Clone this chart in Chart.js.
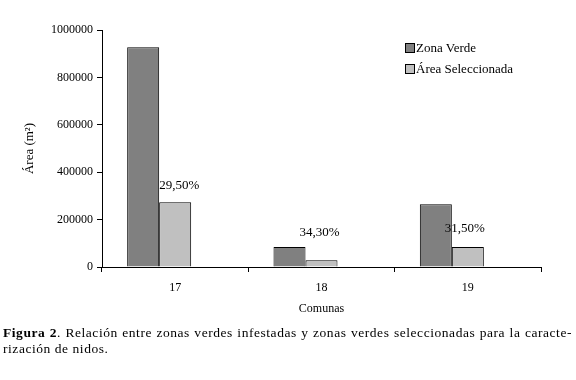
<!DOCTYPE html>
<html>
<head>
<meta charset="utf-8">
<script src="https://cdn.jsdelivr.net/npm/chart.js@4"></script>
<style>
  body { margin: 0; background: #fff; }
  #wrap { position: relative; width: 576px; height: 380px; font-family: "Liberation Serif", serif; color: #000; }
  #chart { position: absolute; left: 0; top: 0; }
  .leg { position: absolute; left: 405px; font-size: 13px; line-height: 16px; white-space: nowrap; }
  .leg i { display: inline-block; width: 8px; height: 8px; border: 1px solid #000; margin-right: 1px; vertical-align: -1px; }
  .cap { position: absolute; left: 3px; width: 569px; font-size: 13.5px; line-height: 16px; letter-spacing: 0.55px; white-space: nowrap; }
</style>
</head>
<body>
<div id="wrap">
  <canvas id="chart" width="576" height="380"></canvas>
  <div class="leg" style="top:40px"><i style="background:#808080"></i>Zona Verde</div>
  <div class="leg" style="top:61px"><i style="background:#c0c0c0"></i>Área Seleccionada</div>
  <div class="cap" style="top:325px; text-align:justify; text-align-last:justify;"><b>Figura 2</b>. Relación entre zonas verdes infestadas y zonas verdes seleccionadas para la caracte-</div>
  <div class="cap" style="top:341px;">rización de nidos.</div>
</div>
<script>
// Datos
const comunas = ['17', '18', '19'];
const zonaVerde = [927000, 84000, 265000];
const areaSeleccionada = [273000, 28000, 84000];
const porcentajes = ['29,50%', '34,30%', '31,50%'];
const yTicks = [0, 200000, 400000, 600000, 800000, 1000000];

// ajustes finos de la posición de las etiquetas (px)
const labelDx = [4, -2, -3];
const labelDy = [17, 28, 19];

const serif = 'Liberation Serif';

// etiquetas de porcentaje sobre las barras de área seleccionada
const etiquetas = {
  id: 'etiquetas',
  afterDatasetsDraw(chart) {
    const ctx = chart.ctx;
    const meta = chart.getDatasetMeta(1);
    ctx.save();
    ctx.font = '13px ' + serif;
    ctx.fillStyle = '#000';
    ctx.textAlign = 'center';
    ctx.textBaseline = 'middle';
    meta.data.forEach((bar, i) => {
      ctx.fillText(porcentajes[i], bar.x + labelDx[i], bar.y - labelDy[i]);
    });
    ctx.restore();
  }
};

const ctx = document.getElementById('chart').getContext('2d');
new Chart(ctx, {
  type: 'bar',
  data: {
    labels: comunas,
    datasets: [{
      label: 'Zona Verde',
      data: zonaVerde,
      backgroundColor: '#808080',
      borderColor: '#000',
      borderWidth: 1
    }, {
      label: 'Área Seleccionada',
      data: areaSeleccionada,
      backgroundColor: '#c0c0c0',
      borderColor: '#000',
      borderWidth: 1
    }, {
      // hueco vacío: en el original las barras quedan a la izquierda del centro
      label: '',
      data: [null, null, null]
    }]
  },
  options: {
    responsive: false,
    animation: false,
    categoryPercentage: 0.656,
    barPercentage: 1,
    layout: { padding: { left: 0, top: 30, right: 35, bottom: 63 } },
    plugins: {
      legend: { display: false },
      tooltip: { enabled: false }
    },
    scales: {
      x: {
        afterFit: (s) => { s.height = 50; },
        grid: { offset: true, drawOnChartArea: false, drawTicks: true, tickLength: 5, color: '#000' },
        border: { color: '#000', width: 1 },
        ticks: { color: '#000', font: { family: serif, size: 12 }, padding: 9 },
        title: { display: true, text: 'Comunas', color: '#000', font: { family: serif, size: 12 }, padding: { top: 0, bottom: 1 } }
      },
      y: {
        min: 0,
        max: 1000000,
        afterFit: (s) => { s.width = 102; },
        afterBuildTicks: (s) => { s.ticks = yTicks.map(v => ({ value: v })); },
        grid: { drawOnChartArea: false, drawTicks: true, tickLength: 5, color: '#000' },
        border: { color: '#000', width: 1 },
        ticks: { color: '#000', font: { family: serif, size: 12 }, padding: 4, callback: (v) => String(v) },
        title: { display: true, text: 'Área (m²)', color: '#000', font: { family: serif, size: 13 }, padding: { top: 22, bottom: 0 } }
      }
    }
  },
  plugins: [etiquetas]
});
</script>
</body>
</html>
